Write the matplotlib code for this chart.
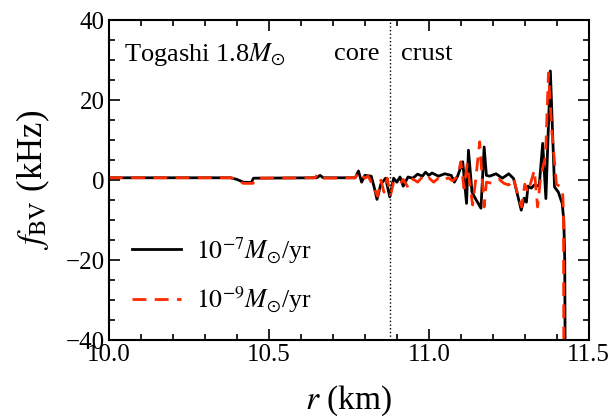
import numpy as np
import matplotlib
matplotlib.use("Agg")
import matplotlib.pyplot as plt
from matplotlib.ticker import MultipleLocator

plt.rcParams['font.family'] = ['Liberation Serif', 'DejaVu Serif']
plt.rcParams['mathtext.fontset'] = 'stix'

# data: r (km), f_BV (kHz)
r_7 = [10.00, 10.38, 10.40, 10.42, 10.445, 10.452, 10.65, 10.66, 10.67, 10.77,
       10.78, 10.79, 10.80, 10.82, 10.83, 10.838, 10.85, 10.865, 10.878, 10.89,
       10.90, 10.91, 10.92, 10.935, 10.95, 10.965, 10.98, 10.99, 11.00, 11.01,
       11.03, 11.05, 11.07, 11.08, 11.09, 11.106, 11.118, 11.124, 11.135, 11.145,
       11.163, 11.173, 11.18, 11.19, 11.21, 11.23, 11.25, 11.265, 11.289, 11.298,
       11.305, 11.31, 11.32, 11.33, 11.345, 11.356, 11.366, 11.380, 11.393, 11.405,
       11.417, 11.422, 11.425, 11.426]
f_7 = [0.6, 0.6, 0.2, -0.5, -0.6, 0.5, 0.6, 1.2, 0.6, 0.6,
       2.3, -0.5, 1.2, 1.0, -2.0, -4.8, -1.0, 0.5, -4.2, 0.5,
       -0.5, 0.8, -1.5, 0.8, 0.5, 1.5, 1.0, 2.0, 1.2, 1.8,
       1.0, 1.6, 1.2, -0.5, 1.0, 4.6, -5.8, 7.5, -3.0, -4.5,
       -7.0, 8.3, 1.2, 1.0, 1.6, 0.5, 1.6, 0.4, -7.5, -4.5,
       -5.5, -1.5, -2.0, -1.2, -1.5, 9.2, -4.6, 27.3, -1.7, -3.0,
       -5.8, -10.0, -20.0, -40.0]

r_9 = [10.00, 10.38, 10.40, 10.42, 10.45, 10.46, 10.645, 10.652, 10.665, 10.77,
       10.78, 10.80, 10.81, 10.82, 10.84, 10.85, 10.86, 10.87, 10.88, 10.89,
       10.90, 10.91, 10.92, 10.935, 10.95, 10.965, 10.98, 10.99, 11.00, 11.015,
       11.03, 11.045, 11.06, 11.075, 11.09, 11.10, 11.11, 11.12, 11.137, 11.145,
       11.159, 11.173, 11.18, 11.20, 11.22, 11.235, 11.25, 11.265, 11.28, 11.29,
       11.30, 11.31, 11.33, 11.34, 11.35, 11.365, 11.374, 11.385, 11.399, 11.41,
       11.418, 11.421, 11.422]
f_9 = [0.6, 0.6, 0.3, -0.8, -0.8, 0.5, 0.6, 1.5, 0.5, 0.6,
       2.0, 0.5, 1.0, -0.5, -4.0, 0.0, -3.0, 0.5, -3.8, -0.5,
       -0.5, -1.0, 0.2, -1.8, 0.3, -0.5, 0.8, 0.0, 0.6, -0.5,
       0.5, -0.2, 0.6, -0.2, 1.0, 4.6, -2.0, 4.0, -6.2, -1.0,
       9.6, -6.7, -0.5, -0.8, 0.2, -0.8, -1.2, 0.5, -4.2, -6.7,
       -1.0, -3.0, 2.5, -6.7, 1.0, 6.0, 26.8, 12.0, -1.0, -1.6,
       -2.5, -8.0, -40.0]

r_boundary = 10.88

fig = plt.figure(figsize=(6.12, 4.2), dpi=100)
ax = fig.add_axes([0.178, 0.19, 0.784, 0.762])

ax.plot(r_7, f_7, color="black", lw=2.0, label=r"$10^{-7}M_{\odot}$/yr")
ax.plot(r_9, f_9, color="#ff2a00", lw=2.0, ls=(0, (5, 3)), label=r"$10^{-9}M_{\odot}$/yr")
ax.axvline(r_boundary, color="black", lw=1.0, ls=":")

ax.set_xlim(10.0, 11.5)
ax.set_ylim(-40, 40)
ax.xaxis.set_major_locator(MultipleLocator(0.5))
ax.xaxis.set_minor_locator(MultipleLocator(0.1))
ax.yaxis.set_major_locator(MultipleLocator(20))
ax.yaxis.set_minor_locator(MultipleLocator(5))
ax.tick_params(which="both", direction="in", top=True, right=True, labelsize=18, width=1.2)
ax.tick_params(which="major", length=8, pad=3)
ax.tick_params(which="minor", length=4)
for s in ax.spines.values():
    s.set_linewidth(1.5)

ax.set_xlabel(r"$r$ (km)", fontsize=24, labelpad=12)
ax.set_ylabel(r"$f_{\rm BV}$ (kHz)", fontsize=25, labelpad=10)

ax.text(10.048, 31.5, r"Togashi 1.8$M_{\odot}$", fontsize=19, va="center")
ax.text(10.845, 31.5, "core", fontsize=19, va="center", ha="right")
ax.text(10.912, 31.5, "crust", fontsize=19, va="center", ha="left")

ax.legend(loc="lower left", bbox_to_anchor=(0.0, 0.005), frameon=False, fontsize=18.5,
          handlelength=1.9, handletextpad=0.6, labelspacing=0.75)

fig.savefig("out.png", dpi=100)
